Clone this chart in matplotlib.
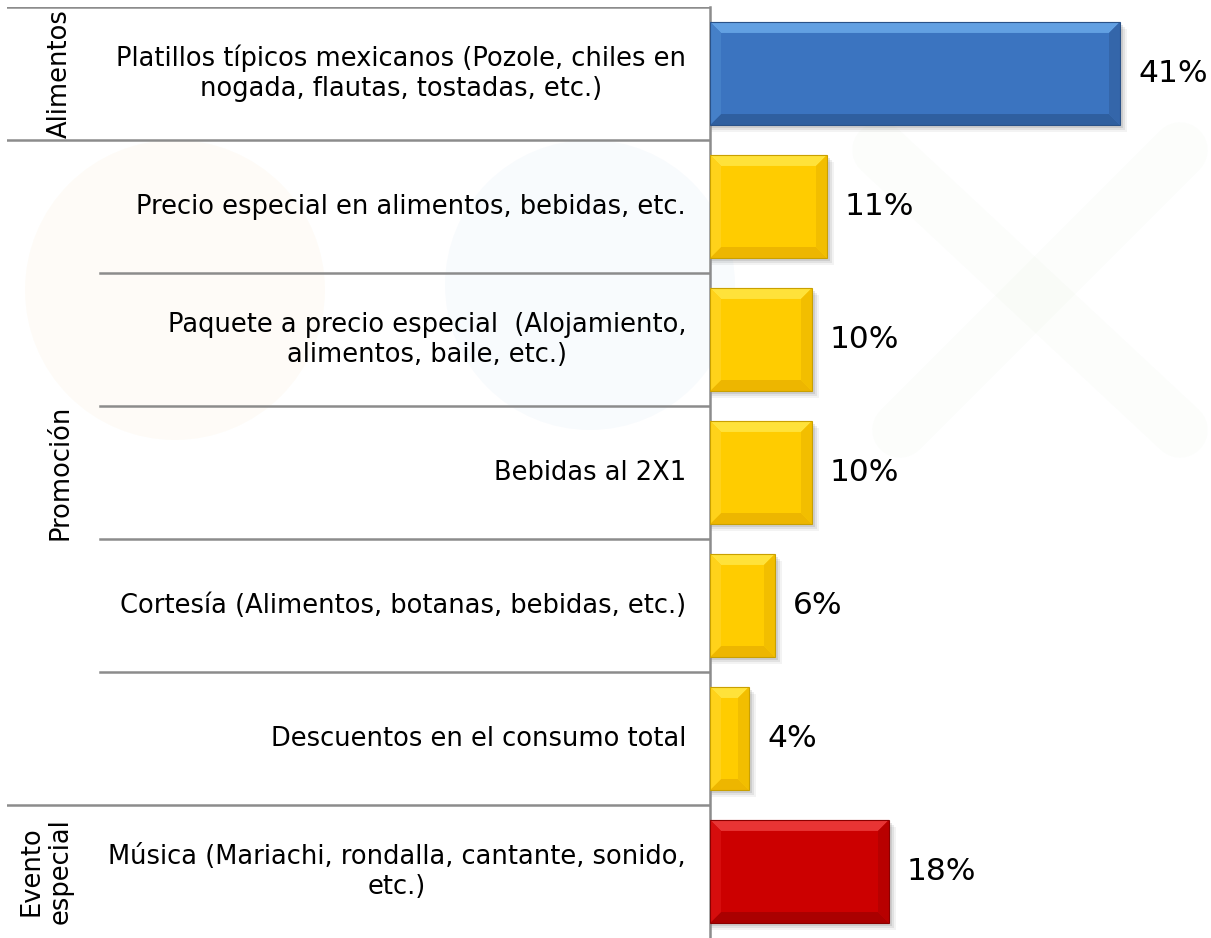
import numpy as np
import matplotlib
matplotlib.use('Agg')
import matplotlib.pyplot as plt
from matplotlib.patches import Polygon, Rectangle, Circle

# Data
categories = [
    'Platillos típicos mexicanos (Pozole, chiles en\nnogada, flautas, tostadas, etc.)',
    'Precio especial en alimentos, bebidas, etc.',
    'Paquete a precio especial  (Alojamiento,\nalimentos, baile, etc.)',
    'Bebidas al 2X1',
    'Cortesía (Alimentos, botanas, bebidas, etc.)',
    'Descuentos en el consumo total',
    'Música (Mariachi, rondalla, cantante, sonido,\netc.)',
]
values = [41.0, 11.7, 10.2, 10.2, 6.5, 3.9, 17.9]
value_labels = ['41%', '11%', '10%', '10%', '6%', '4%', '18%']
group_names = ['Alimentos', 'Promoción', 'Evento\nespecial']
group_sizes = [1, 5, 1]

# face, top, bottom, left, right, edge
group_colors = {
    'Alimentos': ('#3B74C0', '#62A0E2', '#2F5F9F', '#4580C8', '#3466AA', '#2A5288'),
    'Promoción': ('#FFCC00', '#FFE23A', '#EDB600', '#FFD21A', '#F2BE00', '#C9A000'),
    'Evento\nespecial': ('#CC0000', '#E83434', '#AA0000', '#D60D0D', '#B80000', '#8A0000'),
}

W, H = 1211, 938
fig = plt.figure(figsize=(W / 100, H / 100), dpi=100)
fig.patch.set_facecolor('white')

# faint watermark logo in the background
bg = fig.add_axes([0, 0, 1, 1], zorder=0)
bg.set_xlim(0, W)
bg.set_ylim(H, 0)
bg.axis('off')
bg.add_patch(Circle((175, 290), 150, color='#F5A623', alpha=0.035, lw=0))
bg.add_patch(Circle((590, 285), 145, color='#4A90D9', alpha=0.035, lw=0))
bg.plot([880, 1180], [150, 430], color='#6BBF59', lw=40, alpha=0.02, solid_capstyle='round')
bg.plot([1180, 900], [150, 430], color='#6BBF59', lw=40, alpha=0.02, solid_capstyle='round')

n = len(categories)
rows = np.arange(n)
top_frac = (H - 7) / H

# left "table" with categories and groups
tab = fig.add_axes([7 / W, 0, 703 / W, top_frac], zorder=1)
tab.set_xlim(0, 703)
tab.set_ylim(n - 0.5, -0.5)
tab.axis('off')
tab.patch.set_alpha(0)

line_kw = dict(color='#8C8C8C', lw=1.8)
starts = np.cumsum([0] + group_sizes)
for r in range(n):
    if r in starts[:-1]:
        tab.plot([0, 703], [r - 0.5, r - 0.5], **line_kw)
    else:
        tab.plot([93, 703], [r - 0.5, r - 0.5], **line_kw)

for name, s, size in zip(group_names, starts[:-1], group_sizes):
    yc = s + (size - 1) / 2
    xc = 53 if '\n' not in name else 39
    tab.text(xc, yc, name, rotation=90, ha='center', va='center',
             fontsize=18.5, color='black', linespacing=1.15)

for r, cat in zip(rows, categories):
    tab.text(679, r, cat, ha='right', va='center', multialignment='center',
             fontsize=18.5, color='black', linespacing=1.2)

# bars
ax = fig.add_axes([710 / W, 0, 501 / W, top_frac], zorder=2)
ax.set_xlim(0, 50.1)
ax.set_ylim(n - 0.5, -0.5)
ax.patch.set_alpha(0)
for sp in ['top', 'right', 'bottom']:
    ax.spines[sp].set_visible(False)
ax.spines['left'].set_color('#8C8C8C')
ax.spines['left'].set_linewidth(1.8)
ax.set_xticks([])
ax.set_yticks([])

row_groups = []
for name, size in zip(group_names, group_sizes):
    row_groups += [name] * size

faces = [group_colors[g][0] for g in row_groups]
bars = ax.barh(rows, values, height=0.775, color=faces, lw=0, zorder=3)

fig.canvas.draw()
p0 = ax.transData.transform((0, 0))
p1 = ax.transData.transform((1, 1))
sx = abs(p1[0] - p0[0])
sy = abs(p1[1] - p0[1])
b = 11
dx, dy = b / sx, b / sy

for rect, g in zip(bars, row_groups):
    face, c_top, c_bot, c_left, c_right, c_edge = group_colors[g]
    x0, y0 = rect.get_x(), rect.get_y()
    x1, y1 = x0 + rect.get_width(), y0 + rect.get_height()
    # soft shadow
    for k, a in [(6, 0.07), (4, 0.1), (2, 0.15)]:
        ax.add_patch(Rectangle((x0 + 1 / sx, y0 + (k + 1) / sy), rect.get_width() + k / sx,
                               rect.get_height(), color='#555555', alpha=a, lw=0, zorder=2))
    ax.add_patch(Polygon([(x0, y0), (x1, y0), (x1 - dx, y0 + dy), (x0 + dx, y0 + dy)],
                         closed=True, color=c_top, lw=0, zorder=4))
    ax.add_patch(Polygon([(x0, y1), (x1, y1), (x1 - dx, y1 - dy), (x0 + dx, y1 - dy)],
                         closed=True, color=c_bot, lw=0, zorder=4))
    ax.add_patch(Polygon([(x0, y0), (x0 + dx, y0 + dy), (x0 + dx, y1 - dy), (x0, y1)],
                         closed=True, color=c_left, lw=0, zorder=4))
    ax.add_patch(Polygon([(x1, y0), (x1 - dx, y0 + dy), (x1 - dx, y1 - dy), (x1, y1)],
                         closed=True, color=c_right, lw=0, zorder=4))
    ax.add_patch(Rectangle((x0, y0), rect.get_width(), rect.get_height(), fill=False,
                           edgecolor=c_edge, lw=0.8, zorder=5))

for r, v, lab in zip(rows, values, value_labels):
    ax.text(v + 1.8, r, lab, ha='left', va='center', fontsize=22.5, color='black')

fig.savefig('out.png', dpi=100, facecolor='white')
